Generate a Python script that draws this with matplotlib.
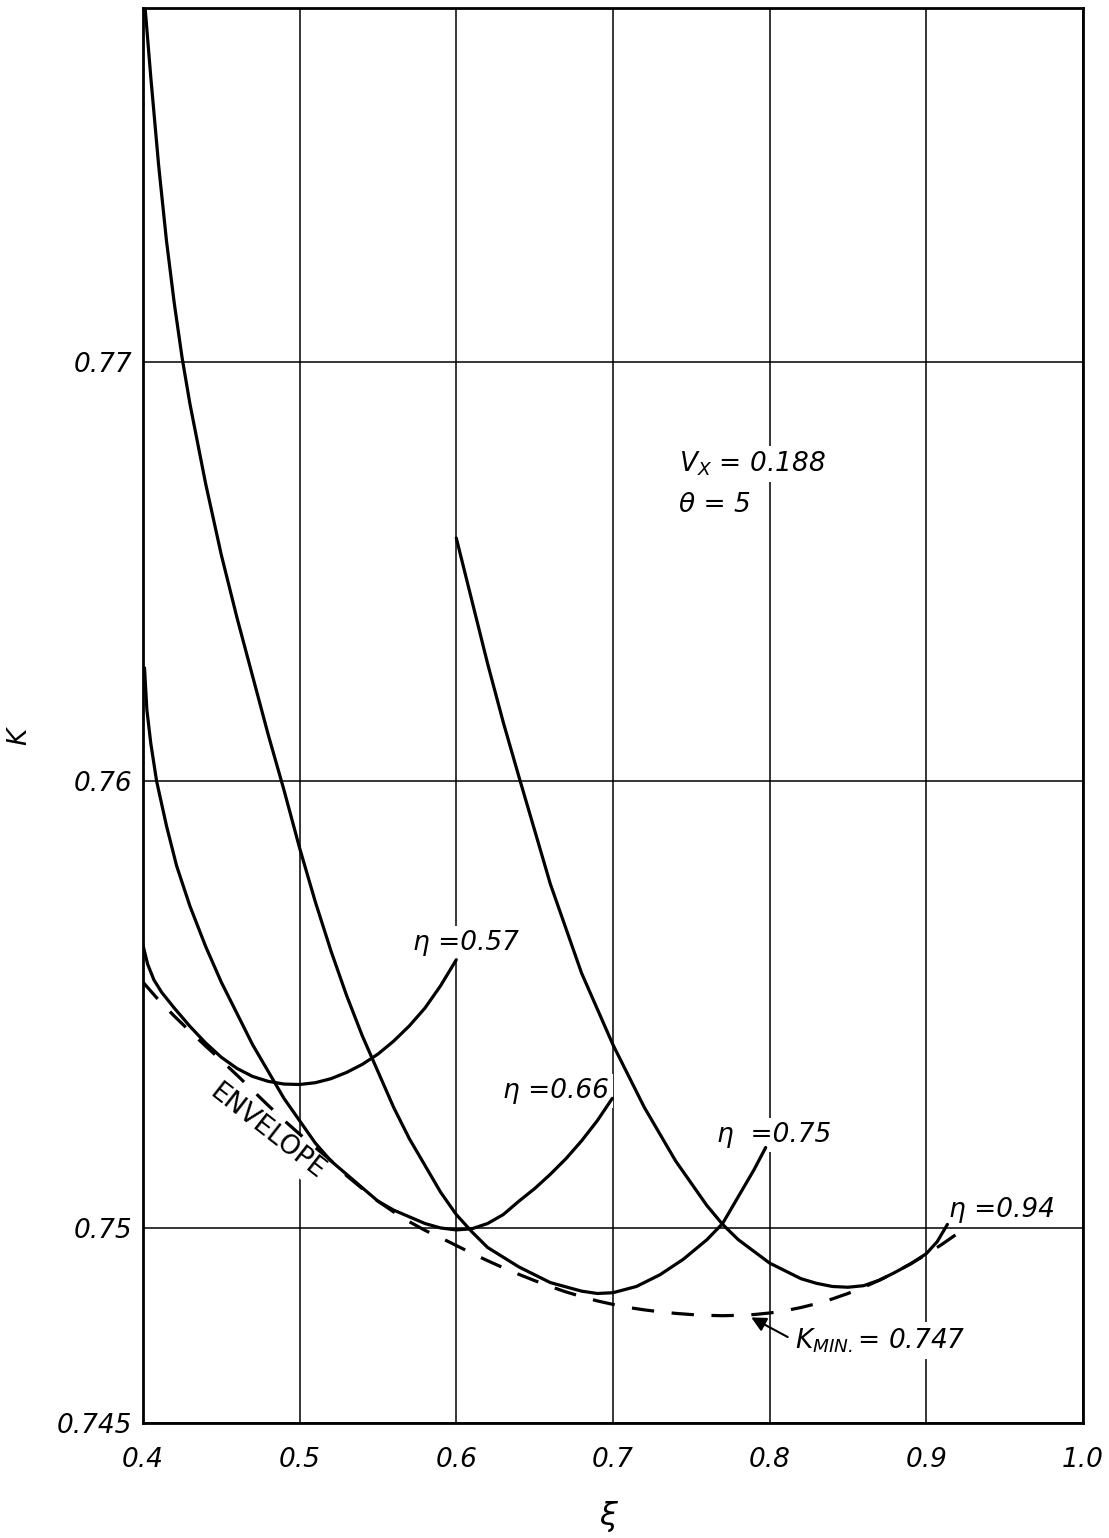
import numpy as np
import matplotlib
matplotlib.use('Agg')
import matplotlib.pyplot as plt

# K(xi) for the four eta values
xi_057 = [0.400, 0.403, 0.407, 0.412, 0.420, 0.430, 0.440, 0.450, 0.460, 0.470, 0.480,
          0.490, 0.500, 0.510, 0.520, 0.530, 0.540, 0.550, 0.560, 0.570, 0.580, 0.590, 0.600]
K_057 = [0.75633, 0.75590, 0.75555, 0.75527, 0.75492, 0.75451, 0.75414, 0.75382, 0.75357,
         0.75339, 0.75328, 0.75322, 0.75321, 0.75325, 0.75334, 0.75348, 0.75366, 0.75389,
         0.75418, 0.75452, 0.75492, 0.75542, 0.75600]

xi_066 = [0.4010, 0.4025, 0.4050, 0.4087, 0.4150, 0.4215, 0.430, 0.440, 0.450, 0.460, 0.470,
          0.480, 0.490, 0.500, 0.510, 0.520, 0.530, 0.540, 0.550, 0.560, 0.570, 0.580, 0.590,
          0.600, 0.610, 0.620, 0.630, 0.640, 0.650, 0.660, 0.670, 0.680, 0.690, 0.6996]
K_066 = [0.7627, 0.7617, 0.7609, 0.7600, 0.7590, 0.7581, 0.7572, 0.7563, 0.7555, 0.7548,
         0.7541, 0.7535, 0.7529, 0.7524, 0.7519, 0.7515, 0.7512, 0.7509, 0.7506, 0.7504,
         0.75025, 0.7501, 0.7500, 0.74995, 0.74998, 0.7501, 0.7503, 0.7506, 0.75088, 0.7512,
         0.75155, 0.75195, 0.7524, 0.7529]

xi_075 = [0.4015, 0.405, 0.410, 0.415, 0.420, 0.425, 0.430, 0.440, 0.450, 0.460, 0.470,
          0.480, 0.490, 0.500, 0.510, 0.520, 0.530, 0.540, 0.550, 0.560, 0.570, 0.580, 0.590,
          0.600, 0.610, 0.620, 0.640, 0.660, 0.680, 0.690, 0.700, 0.715, 0.730, 0.745, 0.760,
          0.770, 0.780, 0.790, 0.7975]
K_075 = [0.7784, 0.7768, 0.7747, 0.7729, 0.7714, 0.7701, 0.7690, 0.7671, 0.7654, 0.7639,
         0.7625, 0.7611, 0.7598, 0.7585, 0.7573, 0.7562, 0.7552, 0.7543, 0.7535, 0.7527,
         0.7520, 0.7514, 0.7508, 0.7503, 0.7499, 0.7495, 0.7490, 0.7486, 0.74838, 0.74832,
         0.74834, 0.7485, 0.7488, 0.7492, 0.7497, 0.7501, 0.7507, 0.7513, 0.7518]

xi_094 = [0.600, 0.610, 0.620, 0.630, 0.640, 0.650, 0.660, 0.670, 0.680, 0.690, 0.700,
          0.710, 0.720, 0.730, 0.740, 0.750, 0.760, 0.770, 0.780, 0.790, 0.800, 0.810, 0.820,
          0.830, 0.840, 0.850, 0.860, 0.870, 0.880, 0.890, 0.900, 0.907, 0.9135]
K_094 = [0.7658, 0.7643, 0.7628, 0.7614, 0.7601, 0.7589, 0.7577, 0.7567, 0.7557, 0.7549,
         0.7541, 0.7534, 0.7527, 0.7521, 0.7515, 0.7510, 0.7505, 0.75008, 0.7497, 0.7494,
         0.7491, 0.7489, 0.7487, 0.74858, 0.74850, 0.74848, 0.74852, 0.74866, 0.74886,
         0.74908, 0.74934, 0.74965, 0.75008]

env_xi = [0.400, 0.410, 0.420, 0.430, 0.440, 0.450, 0.460, 0.470, 0.480, 0.490, 0.500,
          0.510, 0.520, 0.530, 0.540, 0.550, 0.560, 0.570, 0.580, 0.590, 0.600, 0.610, 0.620,
          0.630, 0.640, 0.650, 0.660, 0.670, 0.680, 0.690, 0.700, 0.710, 0.720, 0.730, 0.740,
          0.750, 0.760, 0.770, 0.780, 0.790, 0.800, 0.810, 0.820, 0.830, 0.840, 0.850, 0.860,
          0.870, 0.880, 0.890, 0.900, 0.910, 0.920]
env_K = [0.75550, 0.75510, 0.75474, 0.75440, 0.75407, 0.75375, 0.75342, 0.75308, 0.75274,
         0.75241, 0.75210, 0.75180, 0.75151, 0.75117, 0.75088, 0.75060, 0.75036, 0.75014,
         0.74994, 0.74975, 0.74955, 0.74935, 0.74916, 0.74898, 0.74881, 0.74865, 0.74850,
         0.74836, 0.74824, 0.74813, 0.74804, 0.74796, 0.74790, 0.74785, 0.74781, 0.74778,
         0.74776, 0.74775, 0.74776, 0.74778, 0.74782, 0.74788, 0.74796, 0.74806, 0.74818,
         0.74832, 0.74848, 0.74866, 0.74886, 0.74908, 0.74932, 0.74958, 0.74986]

x_ticks = [0.4, 0.5, 0.6, 0.7, 0.8, 0.9, 1.0]
x_labels = ['0.4', '0.5', '0.6', '0.7', '0.8', '0.9', '1.0']
y_ticks = [0.745, 0.75, 0.76, 0.77]
y_labels = ['0.745', '0.75', '0.76', '0.77']

# the hand drawn grid is not evenly spaced
grid_K = [0.735, 0.745, 0.75, 0.76, 0.77, 0.79]
grid_pos = [-390, 0, 195, 642, 1061, 1899]


def forward(v):
    return np.interp(v, grid_K, grid_pos)


def inverse(p):
    return np.interp(p, grid_pos, grid_K)


plt.rcParams['font.family'] = 'DejaVu Sans'
plt.rcParams['font.style'] = 'italic'
plt.rcParams['mathtext.fontset'] = 'custom'
plt.rcParams['mathtext.it'] = 'DejaVu Sans:italic'
plt.rcParams['mathtext.rm'] = 'DejaVu Sans:italic'

FS = 19
box = dict(boxstyle='square,pad=0.15', fc='white', ec='none')

fig = plt.figure(figsize=(11.09, 15.38), dpi=100)
ax = fig.add_axes([0.1289, 0.0748, 0.8476, 0.9200])
ax.set_yscale('function', functions=(forward, inverse))
ax.set_xlim(0.4, 1.0)
ax.set_ylim(0.745, 0.77845)

ax.set_xticks(x_ticks, x_labels)
ax.set_yticks(y_ticks, y_labels)
ax.yaxis.set_minor_locator(matplotlib.ticker.NullLocator())
ax.xaxis.set_minor_locator(matplotlib.ticker.NullLocator())
ax.tick_params(axis='x', length=0, pad=17, labelsize=FS)
ax.tick_params(axis='y', length=0, pad=8, labelsize=FS)
ax.grid(True, color='black', lw=1.1)
for s in ax.spines.values():
    s.set_linewidth(2.0)

for xs, ks in [(xi_057, K_057), (xi_066, K_066), (xi_075, K_075), (xi_094, K_094)]:
    ax.plot(xs, ks, color='black', lw=2.3, zorder=3, solid_capstyle='round',
            solid_joinstyle='round')
ax.plot(env_xi, env_K, color='black', lw=2.3, ls=(0, (7, 5.5)), zorder=3)

ax.text(0.5721, 0.75622, 'η =0.57', fontsize=FS, va='baseline', bbox=box, zorder=2.5)
ax.text(0.6297, 0.7529, 'η =0.66', fontsize=FS, va='baseline', bbox=box, zorder=2.5)
ax.text(0.7665, 0.75192, 'η  =0.75', fontsize=FS, va='baseline', bbox=box, zorder=2.5)
ax.text(0.9144, 0.75025, 'η =0.94', fontsize=FS, va='baseline', bbox=box, zorder=2.5)
ax.text(0.8162, 0.74692, '$K_{MIN.}$= 0.747', fontsize=FS, va='baseline', bbox=box, zorder=2.5)
ax.annotate('', xy=(0.7867, 0.74774), xytext=(0.8131, 0.74717),
            arrowprops=dict(arrowstyle='-|>', color='black', lw=1.5, mutation_scale=22))
ax.text(0.4792, 0.75215, 'ENVELOPE', fontsize=FS, rotation=-38, rotation_mode='anchor',
        ha='center', va='center', fontstyle='normal', bbox=box, zorder=2.5)
ax.text(0.7419, 0.76738, '$V_X$ = 0.188', fontsize=FS, va='baseline', bbox=box, zorder=2.5)
ax.text(0.7419, 0.76642, 'θ = 5', fontsize=FS, va='baseline', bbox=box, zorder=2.5)

ax.set_xlabel('ξ', fontsize=FS + 4)
ax.xaxis.set_label_coords(0.495, -0.055)
ax.set_ylabel('K', fontsize=FS)
ax.yaxis.set_label_coords(-0.118, 0.485)

fig.savefig('out.png', dpi=100)
